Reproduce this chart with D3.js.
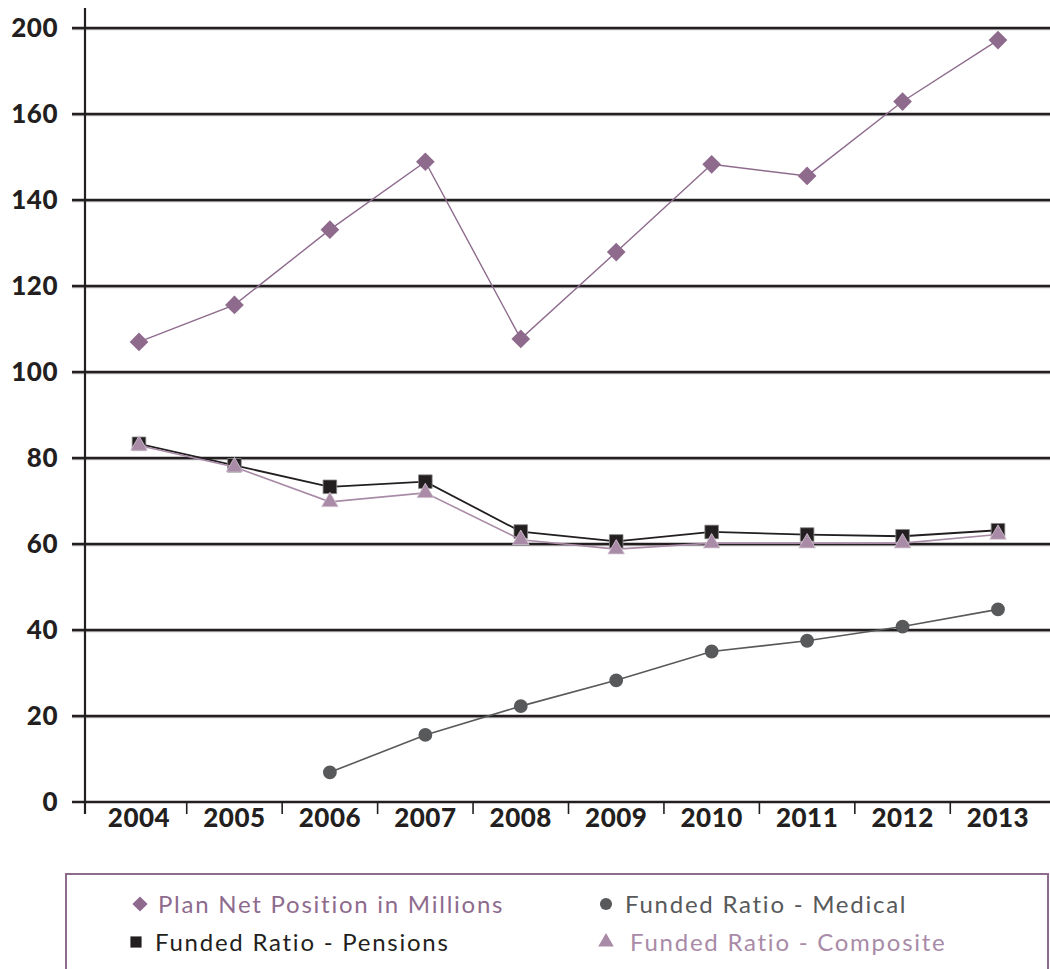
<!DOCTYPE html>
<html>
<head>
<meta charset="utf-8">
<script src="https://cdn.jsdelivr.net/npm/d3@7"></script>
<style>
  body { margin: 0; background: #fff; }
  svg { display: block; }
  .tick-label { font-family: Lato, "DejaVu Sans", sans-serif; font-weight: 900; font-size: 26px; fill: #231f20; letter-spacing: 0.5px; }
  .legend-label { font-family: Lato, "DejaVu Sans", sans-serif; font-size: 24px; letter-spacing: 1.75px; }
</style>
</head>
<body>
<div id="chart"></div>
<script>
// years on the x axis
const years = ["2004", "2005", "2006", "2007", "2008", "2009", "2010", "2011", "2012", "2013"];

// series values (chart units)
const planNetPosition = [107.0, 115.6, 133.1, 148.9, 107.7, 127.9, 148.3, 145.6, 162.9, 177.2];
const fundedPensions  = [83.3, 78.3, 73.3, 74.5, 62.9, 60.6, 62.8, 62.2, 61.8, 63.2];
const fundedMedical   = [null, null, 6.9, 15.6, 22.3, 28.3, 35.0, 37.5, 40.8, 44.8];
const fundedComposite = [82.9, 77.9, 69.8, 71.9, 61.0, 58.8, 60.2, 60.2, 60.2, 62.2];

// y ticks and the labels printed next to them (top one is printed as 200)
const yTickValues = [0, 20, 40, 60, 80, 100, 120, 140, 160, 180];
const yTickLabels = ["0", "20", "40", "60", "80", "100", "120", "140", "160", "200"];

const seriesNames = ["Plan Net Position in Millions", "Funded Ratio - Medical",
                     "Funded Ratio - Pensions", "Funded Ratio - Composite"];

const width = 1050, height = 969;
const purple = "#8e6b8d", grey = "#58595b", black = "#231f20", mauve = "#a98ba7";

const svg = d3.select("#chart").append("svg")
    .attr("width", width)
    .attr("height", height);

const x = d3.scalePoint()
    .domain(years)
    .range([139, 998]);

const y = d3.scaleLinear()
    .domain([0, 180])
    .range([802, 28]);

const axisX = 85;

// horizontal gridlines with a faint shadow underneath
const grid = svg.append("g").attr("class", "grid");
grid.selectAll("line.shadow")
    .data(yTickValues.slice(1))
    .join("line")
    .attr("class", "shadow")
    .attr("x1", 72).attr("x2", width)
    .attr("y1", d => y(d) + 1.6).attr("y2", d => y(d) + 1.6)
    .attr("stroke", "#b9b7b8").attr("stroke-width", 1.4);
grid.selectAll("line.main")
    .data(yTickValues)
    .join("line")
    .attr("class", "main")
    .attr("x1", 72).attr("x2", width)
    .attr("y1", d => y(d)).attr("y2", d => y(d))
    .attr("stroke", black).attr("stroke-width", 2.4);

// y axis line
svg.append("line")
    .attr("x1", axisX).attr("x2", axisX)
    .attr("y1", y(180) - 20).attr("y2", y(0) + 12)
    .attr("stroke", black).attr("stroke-width", 2.2);

// y tick labels
svg.append("g").selectAll("text")
    .data(yTickValues)
    .join("text")
    .attr("class", "tick-label")
    .attr("x", 58)
    .attr("y", d => y(d))
    .attr("dy", "0.36em")
    .attr("text-anchor", "end")
    .text((d, i) => yTickLabels[i]);

// x tick marks between the years
const step = x.step();
svg.append("g").selectAll("line")
    .data(years.slice(1))
    .join("line")
    .attr("x1", d => x(d) - step / 2).attr("x2", d => x(d) - step / 2)
    .attr("y1", y(0)).attr("y2", y(0) + 12)
    .attr("stroke", black).attr("stroke-width", 1.6);

svg.append("g").selectAll("text")
    .data(years)
    .join("text")
    .attr("class", "tick-label")
    .attr("x", d => x(d))
    .attr("y", y(0) + 25)
    .attr("text-anchor", "middle")
    .text(d => d);

// lines and markers
const line = d3.line()
    .defined(d => d.v != null)
    .x(d => x(d.year))
    .y(d => y(d.v));

function toPoints(values) {
    return years.map((yr, i) => ({ year: yr, v: values[i] })).filter(d => d.v != null);
}

const series = [
    { values: planNetPosition, color: purple, width: 1.4, symbol: d3.symbolSquare, size: 175, rotate: 45, stroke: "none" },
    { values: fundedMedical, color: grey, width: 1.6, symbol: d3.symbolCircle, size: 150, rotate: 0, stroke: "none" },
    { values: fundedPensions, color: black, width: 1.8, symbol: d3.symbolSquare, size: 185, rotate: 0, stroke: "#8a8889" },
    { values: fundedComposite, color: mauve, width: 1.6, symbol: d3.symbolTriangle, size: 120, rotate: 0, stroke: "#d6c9d4" }
];

series.forEach(s => {
    const pts = toPoints(s.values);
    svg.append("path")
        .datum(pts)
        .attr("fill", "none")
        .attr("stroke", s.color)
        .attr("stroke-width", s.width)
        .attr("d", line);
    svg.append("g").selectAll("path")
        .data(pts)
        .join("path")
        .attr("d", d3.symbol().type(s.symbol).size(s.size))
        .attr("transform", d => `translate(${x(d.year)},${y(d.v)}) rotate(${s.rotate})`)
        .attr("fill", s.color)
        .attr("stroke", s.stroke)
        .attr("stroke-width", 0.8);
});

// legend box
const legend = svg.append("g").attr("class", "legend");
legend.append("rect")
    .attr("x", 66).attr("y", 874)
    .attr("width", 982).attr("height", 130)
    .attr("fill", "none")
    .attr("stroke", purple)
    .attr("stroke-width", 2);

const legendItems = [
    { name: seriesNames[0], color: purple, symbol: d3.symbolSquare, size: 115, rotate: 45, mx: 140, tx: 158, ty: 904 },
    { name: seriesNames[1], color: grey, symbol: d3.symbolCircle, size: 115, rotate: 0, mx: 606, tx: 625, ty: 904 },
    { name: seriesNames[2], color: black, symbol: d3.symbolSquare, size: 125, rotate: 0, mx: 136, tx: 155, ty: 942 },
    { name: seriesNames[3], color: mauve, symbol: d3.symbolTriangle, size: 105, rotate: 0, mx: 606, tx: 630, ty: 942 }
];

legend.selectAll("path.marker")
    .data(legendItems)
    .join("path")
    .attr("class", "marker")
    .attr("d", d => d3.symbol().type(d.symbol).size(d.size)())
    .attr("transform", d => `translate(${d.mx},${d.ty}) rotate(${d.rotate})`)
    .attr("fill", d => d.color);

legend.selectAll("text")
    .data(legendItems)
    .join("text")
    .attr("class", "legend-label")
    .attr("x", d => d.tx)
    .attr("y", d => d.ty)
    .attr("dy", "0.36em")
    .attr("fill", d => d.color)
    .text(d => d.name);
</script>
</body>
</html>
